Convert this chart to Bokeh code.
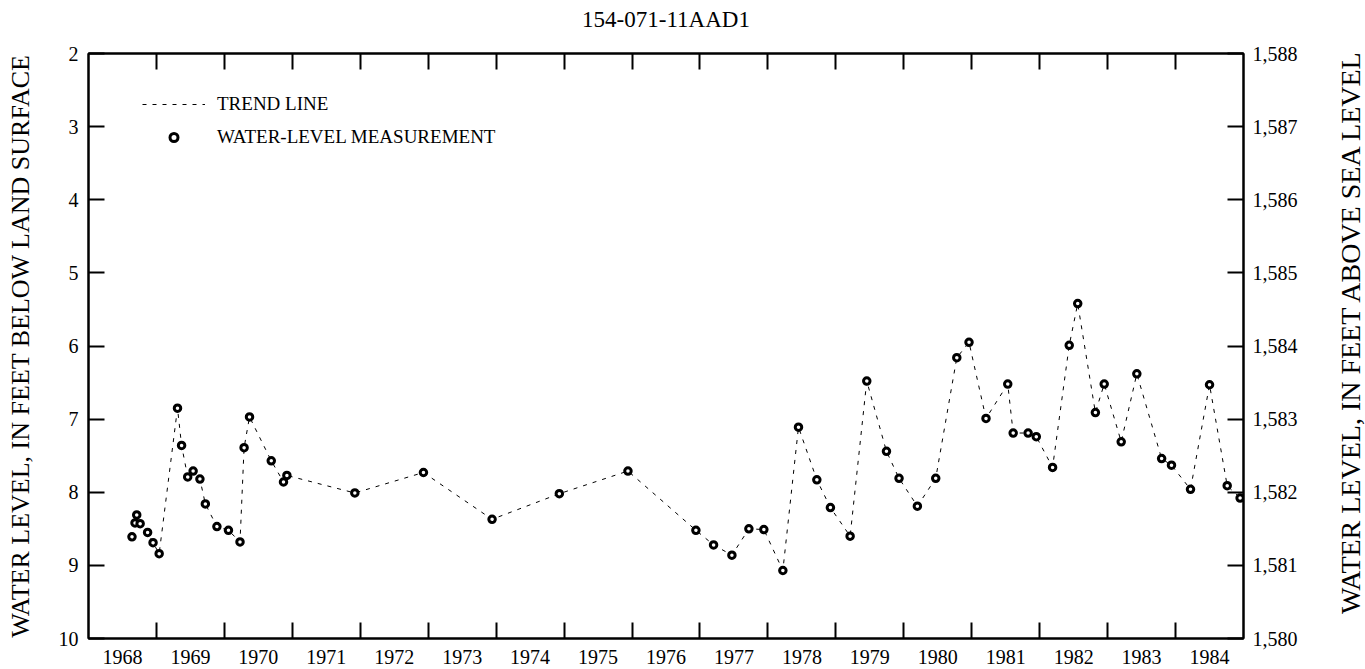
import math
from bokeh.plotting import figure
from bokeh.layouts import row
from bokeh.models import (Range1d, LinearAxis, FixedTicker, NumeralTickFormatter,
                          Legend, LegendItem)
from bokeh.core.properties import value
from bokeh.embed import file_html
from bokeh.resources import INLINE

title_text = "154-071-11AAD1"
left_label = "WATER LEVEL, IN FEET BELOW LAND SURFACE"
right_label = "WATER LEVEL, IN FEET ABOVE SEA LEVEL"
years = list(range(1968, 1985))
depth_ticks = [2, 3, 4, 5, 6, 7, 8, 9, 10]
elev_ticks = [1580, 1581, 1582, 1583, 1584, 1585, 1586, 1587, 1588]

dates = [1968.64, 1968.685, 1968.71, 1968.76, 1968.87, 1968.95, 1969.04,
         1969.31, 1969.37, 1969.46, 1969.54, 1969.64, 1969.72, 1969.89, 1970.06, 1970.23,
         1970.29, 1970.37, 1970.69, 1970.87, 1970.92,
         1971.92, 1972.93, 1973.94, 1974.93, 1975.94,
         1976.94, 1977.20, 1977.47, 1977.72, 1977.94, 1978.22,
         1978.45, 1978.72, 1978.92, 1979.21,
         1979.455, 1979.745, 1979.93, 1980.20, 1980.47,
         1980.78, 1980.96, 1981.21, 1981.53, 1981.61, 1981.83, 1981.95, 1982.19,
         1982.435, 1982.56, 1982.82, 1982.95, 1983.20, 1983.43,
         1983.795, 1983.94, 1984.22, 1984.50, 1984.76, 1984.95]
levels = [8.61, 8.42, 8.31, 8.43, 8.55, 8.69, 8.84,
          6.85, 7.36, 7.79, 7.71, 7.82, 8.16, 8.47, 8.52, 8.68,
          7.39, 6.97, 7.57, 7.86, 7.77,
          8.01, 7.73, 8.37, 8.02, 7.71,
          8.52, 8.72, 8.86, 8.50, 8.51, 9.07,
          7.11, 7.83, 8.21, 8.60,
          6.48, 7.44, 7.81, 8.19, 7.81,
          6.16, 5.95, 6.99, 6.52, 7.19, 7.19, 7.24, 7.66,
          5.99, 5.42, 6.91, 6.52, 7.31, 6.38,
          7.54, 7.63, 7.96, 6.53, 7.91, 8.08]

FONT = "Liberation Serif"
X0, X1 = years[0], years[-1] + 1
Y_BOTTOM, Y_TOP = depth_ticks[-1], depth_ticks[0]

p = figure(frame_width=1155, frame_height=585,
           x_range=Range1d(X0, X1), y_range=Range1d(Y_BOTTOM, Y_TOP),
           output_backend="svg", toolbar_location=None,
           x_axis_location=None, y_axis_location=None,
           min_border_left=88, min_border_right=92,
           min_border_top=53, min_border_bottom=31)
p.extra_y_ranges = {"elev": Range1d(elev_ticks[0], elev_ticks[-1])}
p.grid.visible = False
p.outline_line_color = "black"
p.outline_line_width = 2
p.background_fill_color = "white"
p.border_fill_color = "white"

def tick_style(ax):
    ax.major_tick_out = 0
    ax.minor_tick_out = 0
    ax.minor_tick_in = 16
    ax.major_tick_line_width = 2
    ax.minor_tick_line_width = 2
    ax.major_tick_line_color = "black"
    ax.minor_tick_line_color = "black"
    ax.axis_line_width = 2
    ax.axis_line_color = "black"
    ax.major_label_text_font = FONT
    ax.major_label_text_font_size = "20px"
    ax.major_label_text_color = "black"
    ax.axis_label_text_color = "black"
    ax.axis_label_text_font = FONT
    ax.axis_label_text_font_style = "normal"

# bottom: labels at mid-year (no tick mark), tick marks at year boundaries
xb = LinearAxis(ticker=FixedTicker(ticks=[y + 0.5 for y in years], minor_ticks=years[1:]),
                major_label_overrides={y + 0.5: str(y) for y in years})
tick_style(xb)
xb.major_tick_in = 0
xb.major_label_standoff = 11
p.add_layout(xb, "below")

# top: tick marks only, chart title as its label
xt = LinearAxis(ticker=FixedTicker(ticks=[], minor_ticks=years[1:]), axis_label=title_text)
tick_style(xt)
xt.major_tick_in = 0
xt.axis_label_text_font_size = "23px"
xt.axis_label_standoff = 22
p.add_layout(xt, "above")

yl = LinearAxis(ticker=FixedTicker(ticks=depth_ticks), axis_label=left_label)
tick_style(yl)
yl.major_tick_in = 16
yl.minor_tick_in = 0
yl.major_label_standoff = 10
yl.axis_label_text_font_size = "26px"
yl.axis_label_standoff = 21
p.add_layout(yl, "left")

yr = LinearAxis(y_range_name="elev", ticker=FixedTicker(ticks=elev_ticks),
                formatter=NumeralTickFormatter(format="0,0"))
tick_style(yr)
yr.major_tick_in = 16
yr.minor_tick_in = 0
yr.major_label_standoff = 9
p.add_layout(yr, "right")

trend = p.line(dates, levels, line_color="black", line_width=1, line_dash="4 6")
meas = p.scatter(dates, levels, marker="circle", size=6.5, fill_color="white",
                 line_color="black", line_width=3)

legend = Legend(items=[LegendItem(label="TREND LINE", renderers=[trend]),
                       LegendItem(label="WATER-LEVEL MEASUREMENT", renderers=[meas])],
                location=(54, 490), glyph_width=63, glyph_height=20,
                label_height=20, label_standoff=12, spacing=11, padding=0, margin=0,
                border_line_color=None, background_fill_alpha=0,
                label_text_font=FONT, label_text_font_size="19px", label_text_color="black")
p.add_layout(legend, "center")

# narrow strip holding the right-hand axis title (reads bottom-to-top)
p2 = figure(frame_width=30, frame_height=585, x_range=Range1d(0, 1), y_range=p.y_range,
            output_backend="svg", toolbar_location=None,
            x_axis_location=None, y_axis_location=None,
            min_border_left=0, min_border_right=0, min_border_top=53, min_border_bottom=31)
p2.grid.visible = False
p2.outline_line_color = None
p2.background_fill_color = "white"
p2.border_fill_color = "white"
p2.text(x=[0.5], y=[(Y_BOTTOM + Y_TOP) / 2 - 0.2], text=[right_label], angle=math.pi / 2,
        text_align="center", text_baseline="middle", text_font=value(FONT),
        text_font_size="28px", text_color="black")

layout = row(p, p2, spacing=0)
open("out.html", "w").write(file_html(layout, INLINE))
